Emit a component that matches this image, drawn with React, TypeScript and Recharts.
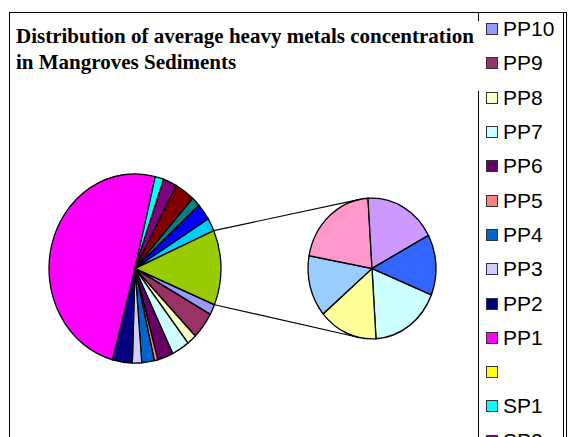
import { PieChart, Pie, Cell } from "recharts";

// first plot, clockwise from the "other" slice
const mainNames = ["PP10", "PP9", "PP8", "PP7", "PP6", "PP5", "PP4", "PP3", "PP2", "PP1", "", "SP1", "SP2", "SP3", "SP4", "SP5", "SP6"];
const mainValues = [1.81, 4.58, 1.81, 3.33, 2.94, 0.67, 2.36, 1.75, 3.72, 49.58, 0, 1.61, 2.58, 3.72, 1.67, 2.83, 2.25];
const mainColors = ["#9999FF", "#993366", "#FFFFCC", "#CCFFFF", "#660066", "#FF8080", "#0066CC", "#CCCCFF", "#000080", "#FF00FF", "#FFFF00", "#00FFFF", "#800080", "#800000", "#008080", "#0000FF", "#00CCFF"];

// second plot
const subNames = ["SP7", "SP8", "SP9", "SP10", "SP11", "SP12"];
const subValues = [2.29, 1.9, 1.8, 2.7, 2.33, 1.78];
const subColors = ["#CCFFFF", "#FFFF99", "#99CCFF", "#FF99CC", "#CC99FF", "#3366FF"];
const otherColor = "#99CC00";

const W = 580;
const H = 437;
const CY = 268.5;
const MAIN_CX = 135;
const MAIN_R = 86;
const SUB_CX = 372;
const SUB_R = 64;
const Y_SCALE = 1.1;
const START = 112.5; // degrees clockwise from 12 o'clock

const otherTotal = subValues.reduce((a, b) => a + b, 0);
const mainData = mainNames
  .map((name, i) => ({ name, value: mainValues[i], color: mainColors[i] }))
  .filter((d) => d.value > 0)
  .concat([{ name: "Other", value: otherTotal, color: otherColor }]);
const subData = subNames.map((name, i) => ({ name, value: subValues[i], color: subColors[i] }));

const legendItems = [
  ...mainNames.map((name, i) => ({ name, color: mainColors[i] })),
  ...subNames.map((name, i) => ({ name, color: subColors[i] })),
];

const total = mainData.reduce((a, d) => a + d.value, 0);
const otherDeg = (360 * otherTotal) / total;

function rimPoint(cx: number, r: number, deg: number) {
  const a = (deg * Math.PI) / 180;
  return { x: cx + r * Math.sin(a), y: CY - r * Math.cos(a) };
}

function tangent(p: { x: number; y: number }, cx: number, cy: number, r: number, upper: boolean) {
  const dx = cx - p.x;
  const dy = cy - p.y;
  const dist = Math.sqrt(dx * dx + dy * dy);
  const alpha = Math.atan2(dy, dx);
  const beta = Math.asin(r / dist);
  const ang = upper ? alpha - beta : alpha + beta;
  const len = Math.sqrt(dist * dist - r * r);
  return { x: p.x + len * Math.cos(ang), y: p.y + len * Math.sin(ang) };
}

const pUp = rimPoint(MAIN_CX, MAIN_R, START - otherDeg);
const pLow = rimPoint(MAIN_CX, MAIN_R, START);
const tUp = tangent(pUp, SUB_CX, CY, SUB_R, true);
const tLow = tangent(pLow, SUB_CX, CY, SUB_R, false);

const stretch = {
  position: "absolute" as const,
  left: 0,
  top: 0,
  transform: `scale(1, ${Y_SCALE})`,
  transformOrigin: `0 ${CY}px`,
};

export default function App() {
  const startAngle = 90 - START;
  return (
    <div style={{ position: "absolute", left: 0, top: 0, width: W, height: H, overflow: "hidden", background: "#fff" }}>
      <div style={{ position: "absolute", left: 9, top: 12, width: 556, height: 500, border: "1.5px solid #000" }} />
      <div style={{ position: "absolute", left: 478, top: 12, width: 84, height: 500, borderLeft: "1px solid #000", borderRight: "1px solid #000" }} />

      <div style={stretch}>
        <PieChart width={W} height={H} margin={{ top: 0, right: 0, bottom: 0, left: 0 }}>
          <Pie
            data={mainData}
            dataKey="value"
            cx={MAIN_CX}
            cy={CY}
            outerRadius={MAIN_R}
            startAngle={startAngle}
            endAngle={startAngle - 360}
            stroke="#000"
            strokeWidth={1.3}
            isAnimationActive={false}
          >
            {mainData.map((d) => (
              <Cell key={d.name} fill={d.color} />
            ))}
          </Pie>
          <Pie
            data={subData}
            dataKey="value"
            cx={SUB_CX}
            cy={CY}
            outerRadius={SUB_R}
            startAngle={90 - 112}
            endAngle={90 - 112 - 360}
            stroke="#000"
            strokeWidth={1.3}
            isAnimationActive={false}
          >
            {subData.map((d) => (
              <Cell key={d.name} fill={d.color} />
            ))}
          </Pie>
        </PieChart>
      </div>

      <svg width={W} height={H} style={stretch}>
        <line x1={pUp.x} y1={pUp.y} x2={tUp.x} y2={tUp.y} stroke="#000" strokeWidth={1} />
        <line x1={pLow.x} y1={pLow.y} x2={tLow.x} y2={tLow.y} stroke="#000" strokeWidth={1} />
      </svg>

      <div
        style={{
          position: "absolute",
          left: 12,
          top: 21,
          width: 467,
          height: 70,
          background: "#fff",
          padding: "2.4px 0 0 4px",
          boxSizing: "border-box",
          fontFamily: "'Liberation Serif', 'Times New Roman', serif",
          fontWeight: "bold",
          fontSize: 21,
          lineHeight: "26px",
          whiteSpace: "nowrap",
          color: "#000",
        }}
      >
        Distribution of average heavy metals concentration
        <br />
        in Mangroves Sediments
      </div>

      <div style={{ position: "absolute", left: 486, top: 12 }}>
        {legendItems.map((d, i) => (
          <div key={i} style={{ display: "flex", alignItems: "center", height: 34.3 }}>
            <div style={{ width: 10, height: 10, background: d.color, border: "1px solid #333", flexShrink: 0 }} />
            <span
              style={{
                marginLeft: 5,
                fontFamily: "'Liberation Sans', Arial, sans-serif",
                fontSize: 21,
                lineHeight: "22px",
                color: "#000",
              }}
            >
              {d.name}
            </span>
          </div>
        ))}
      </div>
    </div>
  );
}
